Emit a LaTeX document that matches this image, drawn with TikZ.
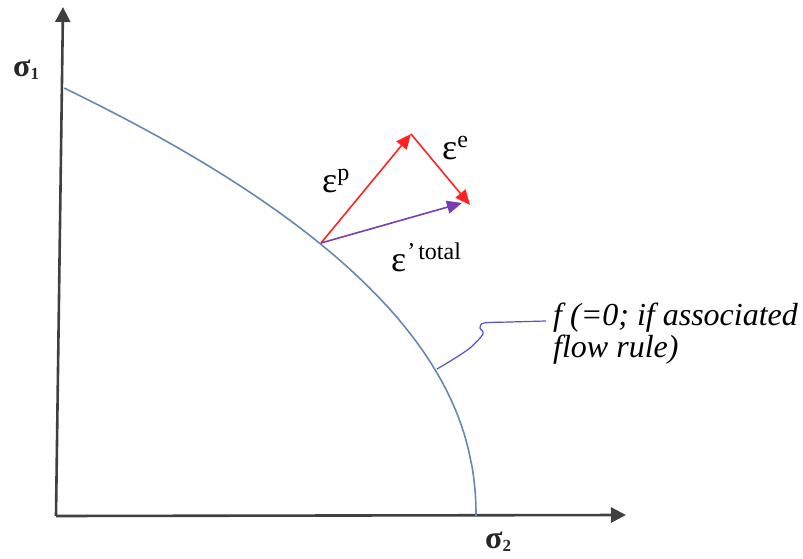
\documentclass[tikz,border=0pt]{standalone}
\usepackage{fontspec}
\setmainfont{Liberation Serif}
\usetikzlibrary{arrows.meta}
\definecolor{axisgray}{HTML}{404040}
\definecolor{curveblue}{HTML}{6489B4}
\definecolor{leaderblue}{HTML}{5050D0}
\definecolor{vecred}{HTML}{FF2424}
\definecolor{vecpurple}{HTML}{7A3CB4}
\newcommand{\epsbig}{\fontsize{36}{36}\selectfont ε}
\newcommand{\supsm}[1]{\raisebox{12pt}{\fontsize{24}{24}\selectfont #1}}
\newcommand{\sigbig}[1]{{\fontsize{32}{32}\selectfont\bfseries σ}\raisebox{-3pt}{\fontsize{17}{17}\selectfont\bfseries #1}}
\begin{document}
\begin{tikzpicture}[x=1pt,y=-1pt,
  axis/.style={draw=axisgray,line width=2.6pt,-{Triangle[length=15pt,width=15pt]}},
  vec/.style={line width=1.6pt,-{Triangle[length=15pt,width=13pt]}},
  sig/.style={text=black!85,inner sep=0pt,anchor=base west},
  eps/.style={inner sep=0pt,anchor=base west},
  lbl/.style={font=\fontsize{32}{32}\selectfont\itshape,align=left,inner sep=0pt,anchor=base west}]
\useasboundingbox (0,0) rectangle (803,559);
% axes
\coordinate (O) at (56,516);
\coordinate (Ytop) at (63,7);
\coordinate (Xend) at (626,515);
\draw[axis] (O) -- (Ytop);
\draw[axis] (O) -- (Xend);
% yield curve
\draw[curveblue,line width=1.6pt] (476,516) -- plot[domain=0.004:1,samples=80,smooth]
  ({476-412*exp(2.15*ln(\x))},{516-428*\x});
% vectors
\coordinate (A) at (321,243);
\coordinate (B) at (411,134);
\coordinate (C) at (470,205);
\coordinate (D) at (462,203);
\draw[vec,draw=vecred,fill=vecred] (A) -- (B);
\draw[vec,draw=vecred,fill=vecred] (B) -- (C);
\draw[vec,draw=vecpurple,fill=vecpurple] (A) -- (D);
% labels
\node[sig] (s1) at (13,77) {\sigbig{1}};
\node[sig] (s2) at (485,548) {\sigbig{2}};
\node[eps] (ep) at (322,192) {\epsbig\supsm{p}};
\node[eps] (ee) at (442,159) {\epsbig\supsm{e}};
\node[eps] (et) at (391,271) {\epsbig\supsm{\kern1pt’\kern3pt total}};
\node[lbl] (f) at (553,357) {f (=0; if associated\\flow rule)};
\coordinate (c) at (437,369);
\draw[leaderblue,line width=1.2pt] plot[smooth,tension=0.5] coordinates
  {(546,321) (510,322) (484,323) (480,328) (483,334) (470,348) (452,360) (437,369)};
\end{tikzpicture}
\end{document}
